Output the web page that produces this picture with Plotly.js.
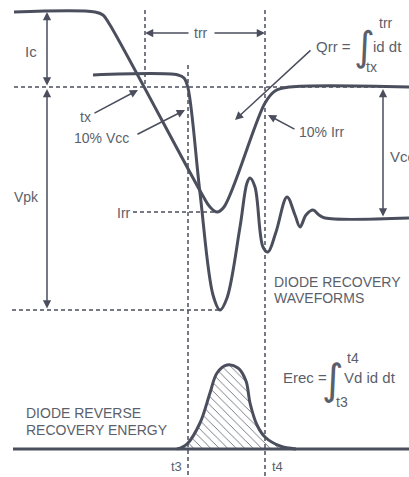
<!DOCTYPE html>
<html><head><meta charset="utf-8">
<script src="https://cdn.plot.ly/plotly-3.0.1.min.js"></script>
<style>html,body{margin:0;padding:0;background:#fff;}#chart{width:409px;height:477px;}</style>
</head><body><div id="chart"></div>
<script>
// Waveform points (drawing units: x right, y down)
const currentX = [14, 95, 103, 110, 203, 210, 217, 224, 265, 275, 290, 409];
const currentY = [12, 12, 15, 25, 196, 207, 212, 207, 103, 91, 87, 87];

const voltageX = [93, 178, 184, 188, 200, 213, 220, 227, 240, 247, 250, 255, 263, 268, 276, 287, 295, 300, 306, 313, 319, 325, 409];
const voltageY = [75, 75, 78, 88, 193, 295, 310, 298, 227, 183, 178, 187, 247, 252, 232, 197, 215, 227, 215, 210, 215, 218, 218];

const energyX = [177, 187, 200, 210, 217, 227, 238, 246, 250, 257, 265, 280, 296];
const energyY = [449, 444, 423, 393, 373, 365, 368, 381, 403, 425, 437, 446, 449];

const baselineX = [13, 409];
const baselineY = [449, 449];

const INK = '#4b4f5d';
const TXT = '#5b5f6b';
const FONT = 'Liberation Sans, Arial, sans-serif';

const traces = [
  {x: energyX, y: energyY, mode: 'lines', fill: 'toself',
   line: {color: INK, width: 3, shape: 'spline', smoothing: 1},
   fillcolor: 'rgba(0,0,0,0)',
   fillpattern: {shape: '\\', fgcolor: '#6b6f7b', bgcolor: 'rgba(255,255,255,0)', size: 6, solidity: 0.15},
   hoverinfo: 'skip'},
  {x: baselineX, y: baselineY, mode: 'lines', line: {color: INK, width: 3}, hoverinfo: 'skip'},
  {x: currentX, y: currentY, mode: 'lines', line: {color: INK, width: 3, shape: 'spline', smoothing: 1}, hoverinfo: 'skip'},
  {x: voltageX, y: voltageY, mode: 'lines', line: {color: INK, width: 3, shape: 'spline', smoothing: 1}, hoverinfo: 'skip'}
];

function dline(x0, y0, x1, y1) {
  return {type: 'line', xref: 'x', yref: 'y', x0: x0, y0: y0, x1: x1, y1: y1,
          line: {color: INK, width: 1.5, dash: '4px,3px'}, layer: 'below'};
}
const shapes = [
  dline(14, 87, 409, 87),
  dline(12, 310, 220, 310),
  dline(133, 212, 217, 212),
  dline(145, 10, 145, 88),
  dline(188, 65, 188, 477),
  dline(265, 10, 265, 477)
];

function txt(x, y, t, size, anchor, fam) {
  return {x: x, y: y, xref: 'x', yref: 'y', text: t, showarrow: false,
          xanchor: anchor || 'left', yanchor: 'middle',
          font: {family: fam || FONT, size: size, color: TXT}};
}
function arr(x, y, ax, ay, both) {
  return {x: x, y: y, ax: ax, ay: ay, xref: 'x', yref: 'y', axref: 'x', ayref: 'y',
          text: '', showarrow: true, arrowhead: 2, arrowsize: 1.1, arrowwidth: 1.5,
          arrowcolor: INK, arrowside: both ? 'end+start' : 'end', standoff: 0, startstandoff: 0};
}

const annotations = [
  // Ic and Vpk
  arr(47, 12, 47, 87, true),
  txt(39, 51, 'Ic', 15, 'right'),
  arr(47, 89, 47, 310, true),
  txt(41, 197, 'Vpk', 14, 'right'),
  // trr
  txt(201, 33, 'trr', 14, 'center'),
  arr(145, 33, 190, 33),
  arr(265, 33, 213, 33),
  // tx, 10% Vcc
  txt(78, 117, 'tx', 14),
  arr(138, 90, 93, 114),
  txt(72, 138, '10% Vcc', 14),
  arr(185, 110, 136, 135),
  // Irr
  txt(115, 213, 'Irr', 14),
  // Qrr
  txt(314, 46, 'Qrr =', 15),
  txt(364, 46, '∫', 40, 'center', 'DejaVu Sans'),
  txt(377, 23, 'trr', 14),
  txt(364, 67, 'tx', 14),
  txt(371, 46, 'id dt', 15),
  arr(235, 120, 312, 49),
  // 10% Irr
  txt(297, 132, '10% Irr', 14),
  arr(268, 115, 296, 130),
  // Vcc
  arr(383, 89, 383, 218, true),
  txt(388, 156, 'Vcc', 15),
  // labels
  txt(272, 282, 'DIODE RECOVERY', 14),
  txt(272, 298, 'WAVEFORMS', 14),
  txt(24, 413, 'DIODE REVERSE', 14),
  txt(24, 430, 'RECOVERY ENERGY', 14),
  // Erec
  txt(281, 377, 'Erec =', 15),
  txt(333, 379, '∫', 42, 'center', 'DejaVu Sans'),
  txt(345, 358, 't4', 14),
  txt(334, 402, 't3', 14),
  txt(342, 377, 'Vd id dt', 15),
  // t3, t4
  txt(184, 466, 't3', 13, 'right'),
  txt(270, 466, 't4', 13)
];

const layout = {
  width: 409, height: 477,
  margin: {l: 0, r: 0, t: 0, b: 0},
  paper_bgcolor: '#ffffff', plot_bgcolor: '#ffffff',
  showlegend: false,
  xaxis: {range: [0, 409], visible: false, fixedrange: true},
  yaxis: {range: [477, 0], visible: false, fixedrange: true},
  shapes: shapes,
  annotations: annotations
};

Plotly.newPlot('chart', traces, layout, {staticPlot: true, displayModeBar: false});
</script>
</body></html>
